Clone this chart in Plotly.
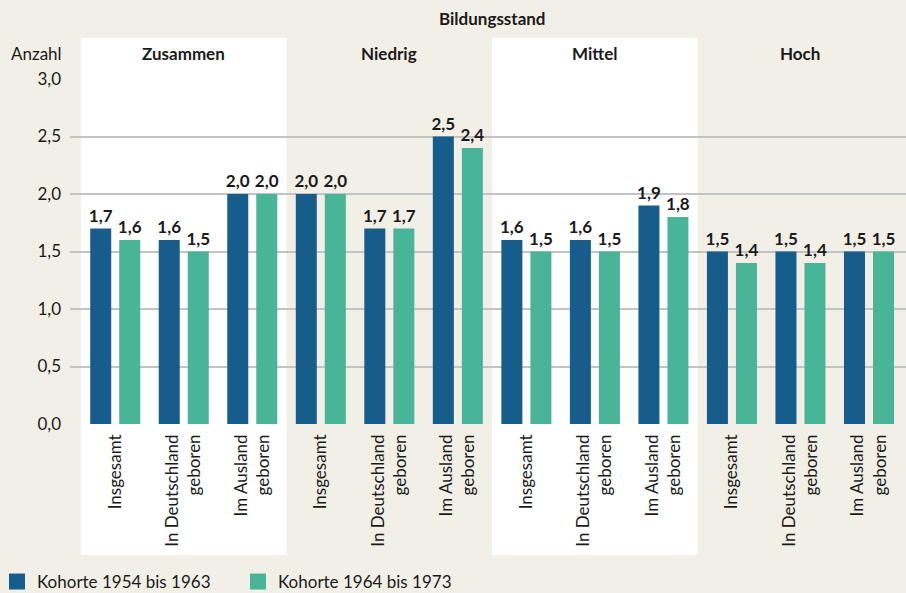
import plotly.graph_objects as go

groups = ["Zusammen", "Niedrig", "Mittel", "Hoch"]
subcats = ["Insgesamt", "In Deutschland<br>geboren", "Im Ausland<br>geboren"]
series_names = ["Kohorte 1954 bis 1963", "Kohorte 1964 bis 1973"]
kohorte_1954 = [1.7, 1.6, 2.0, 2.0, 1.7, 2.5, 1.6, 1.6, 1.9, 1.5, 1.5, 1.5]
kohorte_1964 = [1.6, 1.5, 2.0, 2.0, 1.7, 2.4, 1.5, 1.5, 1.8, 1.4, 1.4, 1.5]
y_ticks = [0, 0.5, 1.0, 1.5, 2.0, 2.5, 3.0]

colors = ["#175d8c", "#48b599"]
BG = "#f2efe7"
FONT = "Lato"
TXT = "#1a1a1a"

positions = list(range(len(groups) * len(subcats)))
tick_text = subcats * len(groups)

def fmt(v):
    return f"{v:.1f}".replace(".", ",")

fig = go.Figure()
for name, vals, col in zip(series_names, [kohorte_1954, kohorte_1964], colors):
    fig.add_trace(go.Bar(
        x=positions, y=vals, name=name, marker_color=col, marker_line_width=0,
        text=[fmt(v) for v in vals], textposition="outside", constraintext="none",
        textfont=dict(family=FONT, size=17, color=TXT, weight="bold"),
        cliponaxis=False, showlegend=False,
    ))
# legend entries
for name, col in zip(series_names, colors):
    fig.add_trace(go.Scatter(
        x=[None], y=[None], mode="markers", name=name,
        marker=dict(symbol="square", size=16, color=col),
    ))

# white bands for groups 1 and 3
for gi in [0, 2]:
    fig.add_shape(type="rect", xref="x", yref="paper",
                  x0=gi * 3 - 0.5, x1=gi * 3 + 2.5, y0=-0.38, y1=1.119,
                  fillcolor="white", line_width=0, layer="below")

for gi, g in enumerate(groups):
    fig.add_annotation(x=gi * 3 + 1, y=1.075, xref="x", yref="paper", text=g,
                       showarrow=False, font=dict(family=FONT, size=17, color=TXT, weight="bold"),
                       xanchor="center", yanchor="middle")

fig.add_annotation(x=5.5, y=(424 - 18) / 345, xref="x", yref="paper", text="Bildungsstand",
                   showarrow=False, font=dict(family=FONT, size=17, color=TXT, weight="bold"),
                   xanchor="center", yanchor="middle")
fig.add_annotation(x=-6 / 836, y=1.075, xref="paper", yref="paper", text="Anzahl",
                   showarrow=False, font=dict(family=FONT, size=17, color=TXT),
                   xanchor="right", yanchor="middle")

fig.update_layout(
    width=906, height=593,
    margin=dict(l=70, r=0, t=79, b=169, autoexpand=False),
    paper_bgcolor=BG, plot_bgcolor="rgba(0,0,0,0)",
    separators=",.",
    barmode="group", bargap=0.153, bargroupgap=0.276,
    font=dict(family=FONT, size=17, color=TXT),
    legend=dict(orientation="h", x=-73 / 836, xanchor="left", y=(424 - 582) / 345, yanchor="middle",
                bgcolor="rgba(0,0,0,0)", font=dict(family=FONT, size=17, color=TXT),
                entrywidth=196, entrywidthmode="pixels", itemclick=False),
)
fig.update_xaxes(range=[-0.66, 11.54], tickvals=positions, ticktext=tick_text,
                 tickangle=-90, showgrid=False, zeroline=False, showline=False,
                 ticks="", ticklabelstandoff=6, tickfont=dict(family=FONT, size=17, color=TXT))
fig.update_yaxes(range=[0, 3.0], tickvals=y_ticks, tickformat=".1f", showgrid=True,
                 gridcolor="#c3c3c3", gridwidth=1.5, zeroline=False, showline=False,
                 ticks="", ticklabelstandoff=8, tickfont=dict(family=FONT, size=17, color=TXT))

fig.write_html("out.html", config={"displayModeBar": False},
               post_script="document.body.style.margin='0';document.body.style.background='%s';" % BG)
